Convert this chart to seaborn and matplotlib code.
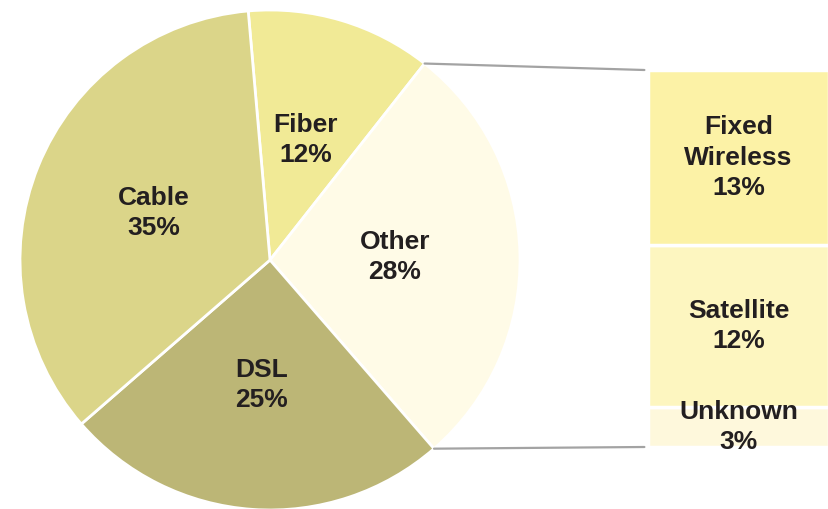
import matplotlib
matplotlib.use("Agg")
import matplotlib.pyplot as plt
from matplotlib.patches import ConnectionPatch
import numpy as np
import seaborn as sns

# Broadband access technology shares
pie_labels = ["Fiber", "Other", "DSL", "Cable"]
pie_values = [12, 28, 25, 35]
pie_colors = ["#F1EA96", "#FFFBE7", "#BCB676", "#DBD589"]

# Breakdown of the "Other" slice
other_labels = ["Unknown", "Satellite", "Fixed\nWireless"]
other_values = [3, 12, 13]
other_colors = ["#FEF8DC", "#FDF6C0", "#FCF2A6"]

sns.set_theme(style="white")
plt.rcParams["font.family"] = ["Liberation Sans", "DejaVu Sans"]

W, H = 829, 509
fig = plt.figure(figsize=(W / 100, H / 100), dpi=100)

# Pie axes: centre (270, 260) px, radius 250 px
cx, cy, r = 270, 260, 250
ax_pie = fig.add_axes([(cx - r) / W, (H - cy - r) / H, 2 * r / W, 2 * r / H])
total = sum(pie_values)
start = 95
wedges, texts = ax_pie.pie(
    pie_values,
    colors=pie_colors,
    startangle=start,
    counterclock=False,
    radius=1.0,
    wedgeprops=dict(edgecolor="white", linewidth=2),
)
ax_pie.set_xlim(-1, 1)
ax_pie.set_ylim(-1, 1)
ax_pie.set_aspect("equal")
ax_pie.axis("off")

angle = start
for lab, val in zip(pie_labels, pie_values):
    span = 360 * val / total
    mid = np.deg2rad(angle - span / 2)
    ax_pie.text(0.5 * np.cos(mid), 0.5 * np.sin(mid), f"{lab}\n{val}%",
                ha="center", va="center", fontsize=19, fontweight="bold",
                color="#231F20", linespacing=1.32)
    angle -= span

# Stacked bar for the "Other" breakdown
bar_top, bar_bottom = 70, 447
bx0, bx1 = 648, 829
ax_bar = fig.add_axes([bx0 / W, (H - bar_bottom) / H, (bx1 - bx0) / W, (bar_bottom - bar_top) / H])
bottom = 0
for lab, val, col in zip(other_labels, other_values, other_colors):
    ax_bar.bar(0, val, bottom=bottom, width=1.0, color=col,
               edgecolor="white", linewidth=2.5)
    ax_bar.text(0, bottom + val / 2, f"{lab}\n{val}%", ha="center", va="center",
                fontsize=19, fontweight="bold", color="#231F20", linespacing=1.32)
    bottom += val
ax_bar.set_xlim(-0.5, 0.5)
ax_bar.set_ylim(0, sum(other_values))
ax_bar.axis("off")

# Connector lines from the "Other" wedge edges to the bar
a_top = np.deg2rad(start - 360 * pie_values[0] / total)
a_bot = np.deg2rad(start - 360 * (pie_values[0] + pie_values[1]) / total)
for a, yb in [(a_top, sum(other_values)), (a_bot, 0)]:
    con = ConnectionPatch(xyA=(np.cos(a), np.sin(a)), coordsA=ax_pie.transData,
                          xyB=(-0.52, yb), coordsB=ax_bar.transData,
                          color="#A3A3A3", linewidth=1.6)
    fig.add_artist(con)

fig.savefig("out.png", dpi=100, facecolor="white")
